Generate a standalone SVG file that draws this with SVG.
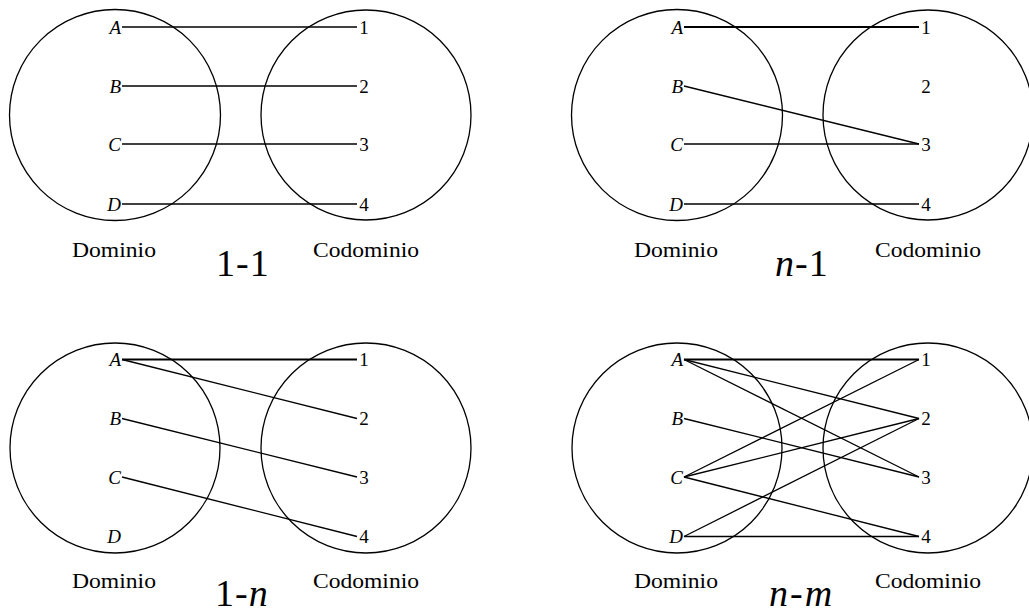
<svg xmlns="http://www.w3.org/2000/svg" width="1029" height="616" viewBox="0 0 1029 616">
<style>
.set{fill:none;stroke:#000;stroke-width:1.3}
.e{stroke:#000;stroke-width:1.3;fill:none}
.b{stroke-width:2.2}
.lt{font-family:"Liberation Serif","Times New Roman",serif;font-style:italic;font-size:19px;fill:#000;text-anchor:end}
.nm{font-family:"Liberation Serif","Times New Roman",serif;font-size:19px;fill:#000;text-anchor:middle}
.cap{font-family:"Liberation Serif","Times New Roman",serif;font-size:21px;fill:#000}
.ttl{font-family:"Liberation Serif","Times New Roman",serif;font-size:38px;fill:#000}
.it{font-style:italic}
</style>
<rect width="1029" height="616" fill="#fff"/>

<!-- Panel 1-1 -->
<g id="panel-1-1">
  <g id="p1-domain"><circle class="set" cx="115" cy="115" r="105.5"/><text class="cap" x="72" y="257" textLength="84" lengthAdjust="spacingAndGlyphs">Dominio</text></g>
  <g id="p1-codomain"><circle class="set" cx="366" cy="115" r="105"/><text class="cap" x="313" y="257" textLength="106" lengthAdjust="spacingAndGlyphs">Codominio</text></g>
  <g id="p1-A"><text class="lt" x="121" y="34">A</text></g>
  <g id="p1-B"><text class="lt" x="121" y="93">B</text></g>
  <g id="p1-C"><text class="lt" x="121" y="151">C</text></g>
  <g id="p1-D"><text class="lt" x="121" y="211">D</text></g>
  <g id="p1-1"><text class="nm" x="364" y="34">1</text></g>
  <g id="p1-2"><text class="nm" x="364" y="93">2</text></g>
  <g id="p1-3"><text class="nm" x="364" y="151">3</text></g>
  <g id="p1-4"><text class="nm" x="364" y="211">4</text></g>
  <g id="p1-connectors">
    <line class="e" x1="122" y1="27" x2="357" y2="27"/>
    <line class="e" x1="122" y1="86" x2="357" y2="86"/>
    <line class="e" x1="122" y1="144" x2="357" y2="144"/>
    <line class="e" x1="122" y1="204" x2="357" y2="204"/>
  </g>
  <text class="ttl" x="216" y="276" letter-spacing="1">1-1</text>
</g>

<!-- Panel n-1 -->
<g id="panel-n-1" transform="translate(562,0)">
  <g id="p2-domain"><circle class="set" cx="115" cy="115" r="105.5"/><text class="cap" x="72" y="257" textLength="84" lengthAdjust="spacingAndGlyphs">Dominio</text></g>
  <g id="p2-codomain"><circle class="set" cx="366" cy="115" r="105"/><text class="cap" x="313" y="257" textLength="106" lengthAdjust="spacingAndGlyphs">Codominio</text></g>
  <g id="p2-A"><text class="lt" x="121" y="34">A</text></g>
  <g id="p2-B"><text class="lt" x="121" y="93">B</text></g>
  <g id="p2-C"><text class="lt" x="121" y="151">C</text></g>
  <g id="p2-D"><text class="lt" x="121" y="211">D</text></g>
  <g id="p2-1"><text class="nm" x="364" y="34">1</text></g>
  <g id="p2-2"><text class="nm" x="364" y="93">2</text></g>
  <g id="p2-3"><text class="nm" x="364" y="151">3</text></g>
  <g id="p2-4"><text class="nm" x="364" y="211">4</text></g>
  <g id="p2-connectors">
    <line class="e b" x1="122" y1="27" x2="357" y2="27"/>
    <line class="e" x1="122" y1="86" x2="357" y2="144"/>
    <line class="e" x1="122" y1="144" x2="357" y2="144"/>
    <line class="e" x1="122" y1="204" x2="357" y2="204"/>
  </g>
  <text class="ttl" x="213" y="276" letter-spacing="1"><tspan class="it">n</tspan>-1</text>
</g>

<!-- Panel 1-n -->
<g id="panel-1-n" transform="translate(0,333)">
  <g id="p3-domain"><circle class="set" cx="115" cy="115" r="105"/><text class="cap" x="72" y="255" textLength="84" lengthAdjust="spacingAndGlyphs">Dominio</text></g>
  <g id="p3-codomain"><circle class="set" cx="366" cy="115" r="105"/><text class="cap" x="313" y="255" textLength="106" lengthAdjust="spacingAndGlyphs">Codominio</text></g>
  <g id="p3-A"><text class="lt" x="121" y="33">A</text></g>
  <g id="p3-B"><text class="lt" x="121" y="92">B</text></g>
  <g id="p3-C"><text class="lt" x="121" y="151">C</text></g>
  <g id="p3-D"><text class="lt" x="121" y="210">D</text></g>
  <g id="p3-1"><text class="nm" x="364" y="33">1</text></g>
  <g id="p3-2"><text class="nm" x="364" y="92">2</text></g>
  <g id="p3-3"><text class="nm" x="364" y="151">3</text></g>
  <g id="p3-4"><text class="nm" x="364" y="210">4</text></g>
  <g id="p3-connectors">
    <line class="e b" x1="122" y1="26.5" x2="357" y2="26.5"/>
    <line class="e" x1="122" y1="26.5" x2="357" y2="85.5"/>
    <line class="e" x1="122" y1="85.5" x2="357" y2="144"/>
    <line class="e" x1="122" y1="144" x2="357" y2="203.5"/>
  </g>
  <text class="ttl" x="215" y="273" letter-spacing="1">1-<tspan class="it">n</tspan></text>
</g>

<!-- Panel n-m -->
<g id="panel-n-m" transform="translate(562,333)">
  <g id="p4-domain"><circle class="set" cx="115" cy="115" r="105"/><text class="cap" x="72" y="255" textLength="84" lengthAdjust="spacingAndGlyphs">Dominio</text></g>
  <g id="p4-codomain"><circle class="set" cx="366" cy="115" r="105"/><text class="cap" x="313" y="255" textLength="106" lengthAdjust="spacingAndGlyphs">Codominio</text></g>
  <g id="p4-A"><text class="lt" x="121" y="33">A</text></g>
  <g id="p4-B"><text class="lt" x="121" y="92">B</text></g>
  <g id="p4-C"><text class="lt" x="121" y="151">C</text></g>
  <g id="p4-D"><text class="lt" x="121" y="210">D</text></g>
  <g id="p4-1"><text class="nm" x="364" y="33">1</text></g>
  <g id="p4-2"><text class="nm" x="364" y="92">2</text></g>
  <g id="p4-3"><text class="nm" x="364" y="151">3</text></g>
  <g id="p4-4"><text class="nm" x="364" y="210">4</text></g>
  <g id="p4-connectors">
    <line class="e b" x1="122" y1="26.5" x2="357" y2="26.5"/>
    <line class="e" x1="122" y1="26.5" x2="357" y2="85.5"/>
    <line class="e" x1="122" y1="26.5" x2="357" y2="144"/>
    <line class="e" x1="122" y1="85.5" x2="357" y2="144"/>
    <line class="e" x1="122" y1="144" x2="357" y2="26.5"/>
    <line class="e" x1="122" y1="144" x2="357" y2="85.5"/>
    <line class="e" x1="122" y1="144" x2="357" y2="203.5"/>
    <line class="e" x1="122" y1="203.5" x2="357" y2="85.5"/>
    <line class="e" x1="122" y1="203.5" x2="357" y2="203.5"/>
  </g>
  <text class="ttl" x="207" y="273" letter-spacing="2"><tspan class="it">n</tspan>-<tspan class="it">m</tspan></text>
</g>
</svg>
